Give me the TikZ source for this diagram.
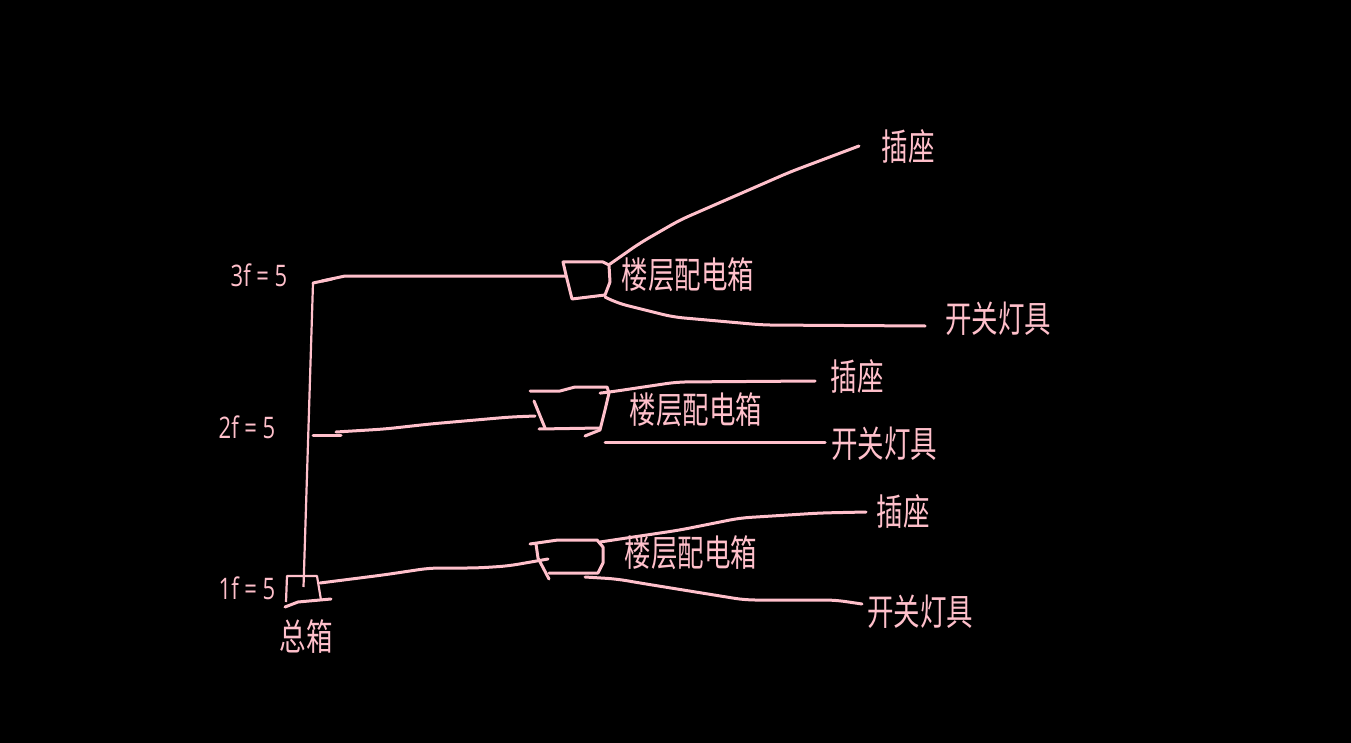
\documentclass[tikz,border=0pt]{standalone}
\usepackage{fontspec}
\newfontfamily\cjk{Noto Sans CJK SC}
\newfontfamily\lat{Open Sans}
\definecolor{pk}{HTML}{FFC0CB}
\newcommand{\cjklbl}[1]{\scalebox{1}[1.38]{\fontsize{26.5}{26.5}\selectfont\cjk #1}}
\newcommand{\flbl}[1]{\scalebox{1}[1.35]{\fontsize{22}{22}\selectfont\lat #1}}
\tikzset{
  wire/.style={draw=pk,line width=3pt,line join=round,line cap=round},
  curvewire/.style={wire,rounded corners=10pt},
  thinwire/.style={draw=pk,line width=2.2pt,line join=round},
  lbl/.style={text=pk,inner sep=0pt,anchor=center}
}
\begin{document}
\begin{tikzpicture}[x=1pt,y=-1pt]
\fill[black] (0,0) rectangle (1351,743);
\useasboundingbox (0,0) rectangle (1351,743);
% labels
\node[lbl] (f3) at (259,275) {\flbl{3f = 5}};
\node[lbl] (f2) at (247,427) {\flbl{2f = 5}};
\node[lbl] (f1) at (247,588) {\flbl{1f = 5}};
\node[lbl] (main) at (306,637) {\cjklbl{总箱}};
\node[lbl] (s3) at (908,146) {\cjklbl{插座}};
\node[lbl] (b3) at (688,275) {\cjklbl{楼层配电箱}};
\node[lbl] (k3) at (998,319) {\cjklbl{开关灯具}};
\node[lbl] (s2) at (857,376) {\cjklbl{插座}};
\node[lbl] (b2) at (696,410) {\cjklbl{楼层配电箱}};
\node[lbl] (k2) at (884,444) {\cjklbl{开关灯具}};
\node[lbl] (s1) at (903,511) {\cjklbl{插座}};
\node[lbl] (b1) at (691,553) {\cjklbl{楼层配电箱}};
\node[lbl] (k1) at (920,612) {\cjklbl{开关灯具}};
% named connector ends
\coordinate (riserTop) at (313,283);
\coordinate (riserBot) at (303.5,587);
\coordinate (box3in) at (566,276);
\coordinate (box3up) at (610,264);
\coordinate (box3dn) at (605,297);
\coordinate (end3s) at (859,146);
\coordinate (end3k) at (925,326);
\coordinate (riser2) at (313,435);
\coordinate (box2in) at (535,416);
\coordinate (box2up) at (601,393);
\coordinate (box2dn) at (605,442);
\coordinate (end2s) at (815,381);
\coordinate (end2k) at (825,442);
\coordinate (mainOut) at (320,583);
\coordinate (box1in) at (548,559);
\coordinate (box1up) at (600,542);
\coordinate (box1dn) at (585,577);
\coordinate (end1s) at (866,512);
\coordinate (end1k) at (862,604);
% riser and feeders
\draw[thinwire] (riserTop) -- (riserBot);
\draw[wire] (riserTop) -- (332,279);
\draw[wire] (322,281) -- (345,276) -- (box3in);
\draw[wire] (riser2) -- (341,435);
\draw[curvewire] (336,432) -- (385,429) -- (430,424) -- (510,417) -- (box2in);
\draw[curvewire] (mainOut) -- (383,575) -- (430,568) -- (477,568) -- (508,566) -- (box1in);
% branches
\draw[curvewire] (box3up) -- (640,243) -- (680,220) -- (735,196) -- (790,172) -- (end3s);
\draw[curvewire] (box3dn) -- (617,303) -- (673,317) -- (763,325) -- (end3k);
\draw[curvewire] (box2up) -- (610,392) -- (677,382) -- (end2s);
\draw[wire] (box2dn) -- (end2k);
\draw[curvewire] (box1up) -- (680,530) -- (740,518) -- (820,513) -- (end1s);
\draw[curvewire] (box1dn) -- (617,579) -- (640,583) -- (745,600) -- (835,600) -- (end1k);
% boxes
\draw[wire] (566,275) -- (563,262) -- (603,262) -- (609,265) -- (610,282) -- (605,295) -- (572,299) -- (566,275);
\draw[wire] (530,391) -- (560,391) -- (575,387) -- (607,387) -- (609,393) -- (605,410) -- (600,430) -- (585,436);
\draw[wire] (534,401) -- (545,428);
\draw[wire] (539,429) -- (600,428);
\draw[wire] (530,544) -- (558,540) -- (597,540) -- (603,547) -- (603,563) -- (598,573) -- (549,573);
\draw[wire] (536,544) -- (538,558) -- (549,579);
\draw[thinwire] (286,602) -- (287,576) -- (317,576) -- (321,600);
\draw[wire] (285,607) -- (298,602) -- (331,599);
\end{tikzpicture}
\end{document}
